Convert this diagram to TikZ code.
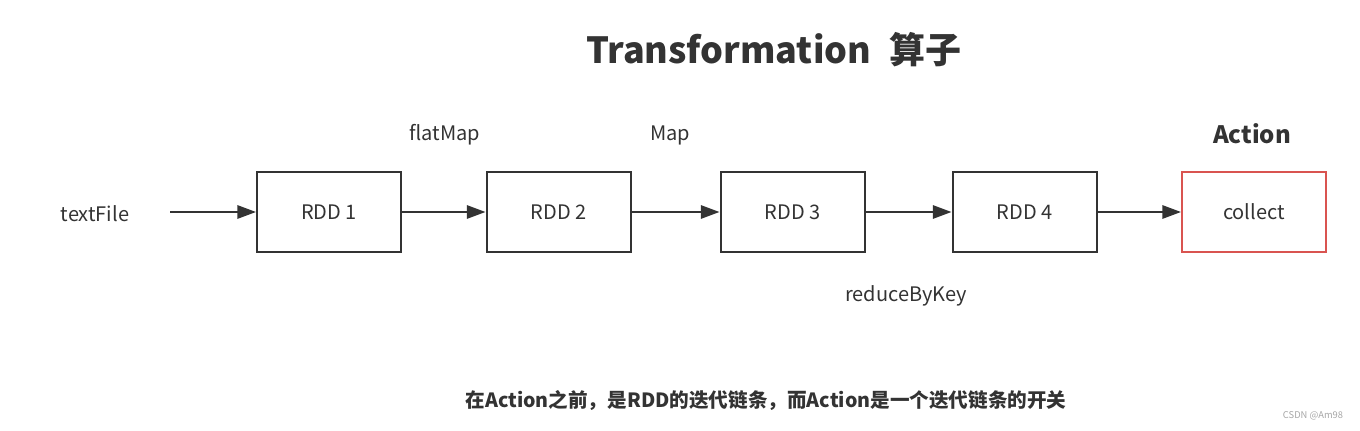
\documentclass[tikz,border=0pt]{standalone}
\usepackage{fontspec}
\setmainfont{Noto Sans CJK SC}
\usepackage{tikz}
\usetikzlibrary{arrows.meta}
\usetikzlibrary{positioning}

\definecolor{ink}{RGB}{51,51,51}
\definecolor{actred}{RGB}{217,84,80}

\tikzset{
  rdd/.style={draw=ink,line width=1.5pt,minimum width=108pt,minimum height=60pt,
    font=\fontsize{15}{18}\selectfont,text=ink},
  act/.style={rdd,draw=actred},
  op/.style={font=\fontsize{15}{18}\selectfont,text=ink},
  flow/.style={draw=ink,line width=1.5pt,-{Triangle[length=14pt,width=10pt]}},
}

\begin{document}
\begin{tikzpicture}[x=0.75pt,y=-0.75pt]
  \useasboundingbox (0,0) rectangle (1360,430);
  % title
  \node[font=\fontsize{27}{33}\selectfont\bfseries,text=ink] (title) at (774,50) {Transformation\hspace{14pt}算子};
  % chain of rdds
  \node[rdd] (r1) at (329,212) {RDD 1};
  \node[rdd] (r2) at (558.5,212) {RDD 2};
  \node[rdd] (r3) at (792.5,212) {RDD 3};
  \node[rdd] (r4) at (1024.5,212) {RDD 4};
  \node[act] (col) at (1254,212) {collect};
  \node[op] (src) at (95,214) {textFile};
  \coordinate (s) at (170,212);
  % operator labels
  \node[op] (fm) at (445,135) {flatMap};
  \node[op] (mp) at (670,135) {Map};
  \node[op] (rbk) at (906,296) {reduceByKey};
  \node[font=\fontsize{18}{22}\selectfont\bfseries,text=ink] (action) at (1252,134) {Action};
  % arrows
  \draw[flow] (s) -- (r1);
  \draw[flow] (r1) -- (r2);
  \draw[flow] (r2) -- (r3);
  \draw[flow] (r3) -- (r4);
  \draw[flow] (r4) -- (col);
  % note
  \node[font=\fontsize{14.7}{18}\selectfont\bfseries,text=ink] (note) at (766,400) {在Action之前，是RDD的迭代链条，而Action是一个迭代链条的开关};
  \node[font=\fontsize{7}{8}\selectfont,text=gray!70] (wm) at (1313,416) {CSDN @Am98};
\end{tikzpicture}
\end{document}
